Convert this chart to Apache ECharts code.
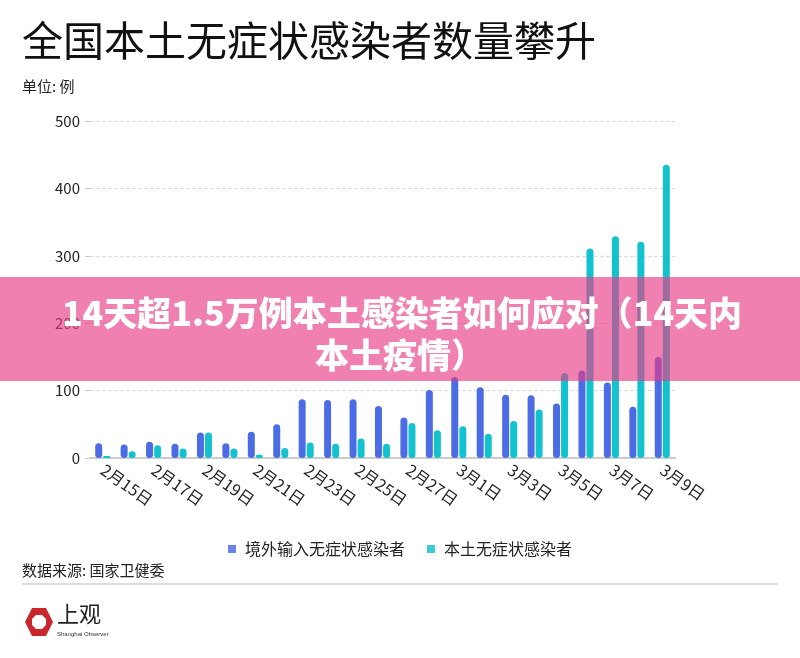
<!DOCTYPE html>
<html>
<head>
<meta charset="utf-8">
<script src="https://cdn.jsdelivr.net/npm/echarts@6/dist/echarts.min.js"></script>
<style>
  html, body { margin: 0; padding: 0; background: #fff; }
  #main { width: 800px; height: 658px; }
</style>
</head>
<body>
<div id="main"></div>
<script>
// 日期
const days = [
  '2月15日', '2月16日', '2月17日', '2月18日', '2月19日', '2月20日', '2月21日', '2月22日',
  '2月23日', '2月24日', '2月25日', '2月26日', '2月27日', '2月28日',
  '3月1日', '3月2日', '3月3日', '3月4日', '3月5日', '3月6日', '3月7日', '3月8日', '3月9日'
];
// 境外输入无症状感染者
const imported = [22, 20, 24, 21, 38, 22, 39, 50, 87, 86, 87, 77, 60, 101, 120, 105, 94, 93, 81, 130, 112, 76, 150];
// 本土无症状感染者
const local = [3, 10, 19, 14, 38, 14, 5, 15, 23, 21, 29, 21, 52, 41, 47, 36, 55, 72, 126, 311, 329, 321, 435];

const yTicks = [0, 100, 200, 300, 400, 500];

const FONT = '"Noto Sans CJK SC", "Noto Sans", sans-serif';
const BLUE = '#4c6ce6';
const CYAN = '#13c2cf';

const chart = echarts.init(document.getElementById('main'));

chart.setOption({
  backgroundColor: '#fff',
  textStyle: { fontFamily: FONT },
  animation: false,
  grid: { left: 90, right: 125, top: 121, bottom: 200 },
  legend: {
    top: 536,
    left: 'center',
    itemWidth: 8,
    itemHeight: 8,
    itemGap: 22,
    icon: 'rect',
    textStyle: { fontSize: 16, color: '#222', fontFamily: FONT, padding: [0, 0, 0, 4] },
    data: [
      { name: '境外输入无症状感染者', itemStyle: { color: '#6c84e6' } },
      { name: '本土无症状感染者', itemStyle: { color: '#3ccad6' } }
    ]
  },
  xAxis: {
    type: 'category',
    data: days,
    axisLine: { lineStyle: { color: '#cccccc', width: 2 } },
    axisTick: { alignWithLabel: true, interval: 1, length: 4, lineStyle: { color: '#cccccc' } },
    axisLabel: {
      interval: 1,
      rotate: -35,
      fontSize: 16,
      color: '#222',
      margin: 10,
      fontFamily: FONT
    }
  },
  yAxis: {
    type: 'value',
    min: 0,
    max: 500,
    interval: 100,
    axisLine: { show: false },
    axisTick: { show: true, length: 5, lineStyle: { color: '#cccccc' } },
    axisLabel: {
      fontSize: 15,
      color: '#222',
      margin: 10,
      fontFamily: FONT,
      formatter: v => (yTicks.includes(v) ? String(v) : '')
    },
    splitLine: { lineStyle: { color: '#dddddd', type: 'dashed' } }
  },
  series: [
    {
      name: '境外输入无症状感染者',
      type: 'bar',
      data: imported,
      barWidth: 7,
      barGap: '15%',
      itemStyle: { color: BLUE, borderRadius: 4 }
    },
    {
      name: '本土无症状感染者',
      type: 'bar',
      data: local,
      barWidth: 7,
      itemStyle: { color: CYAN, borderRadius: 4 }
    }
  ],
  graphic: [
    {
      type: 'text', left: 22, top: 20,
      style: { text: '全国本土无症状感染者数量攀升', fontSize: 41, fill: '#111', fontFamily: FONT }
    },
    {
      type: 'text', left: 22, top: 79,
      style: { text: '单位: 例', fontSize: 15, fill: '#222', fontFamily: FONT }
    },
    {
      type: 'text', left: 22, top: 563,
      style: { text: '数据来源: 国家卫健委', fontSize: 15, fill: '#222', fontFamily: FONT }
    },
    {
      type: 'rect', z: 10,
      shape: { x: 22, y: 583, width: 756, height: 2 },
      style: { fill: '#dddddd' }
    },
    // 上观 logo
    {
      type: 'polygon', z: 10,
      shape: { points: [[32, 608], [46, 608], [53, 622], [46, 636], [32, 636], [25, 622]] },
      style: { fill: '#c8282d' }
    },
    {
      type: 'polygon', z: 11,
      shape: { points: [[36, 615], [42, 615], [46, 619], [46, 625], [42, 629], [36, 629], [32, 625], [32, 619]] },
      style: { fill: '#fff' }
    },
    {
      type: 'text', z: 11, left: 57, top: 603,
      style: { text: '上观', fontSize: 22, fill: '#222', fontFamily: FONT }
    },
    {
      type: 'text', z: 11, left: 57, top: 631,
      style: { text: 'Shanghai Observer', fontSize: 6, fill: '#333', fontFamily: 'Liberation Sans' }
    },
    // 顶部叠加的粉色横幅
    {
      type: 'rect', z: 100,
      shape: { x: 0, y: 277, width: 800, height: 104 },
      style: { fill: 'rgba(230,60,134,0.65)' }
    },
    {
      type: 'text', z: 101,
      style: {
        x: 402,
        y: 313,
        text: '14天超1.5万例本土感染者如何应对（14天内',
        fontSize: 34,
        fontWeight: 900,
        align: 'center',
        verticalAlign: 'middle',
        fill: '#fff',
        fontFamily: FONT
      }
    },
    {
      type: 'text', z: 101,
      style: {
        x: 400,
        y: 355,
        text: '本土疫情）',
        fontSize: 34,
        fontWeight: 900,
        align: 'center',
        verticalAlign: 'middle',
        fill: '#fff',
        fontFamily: FONT
      }
    }
  ]
});
</script>
</body>
</html>
